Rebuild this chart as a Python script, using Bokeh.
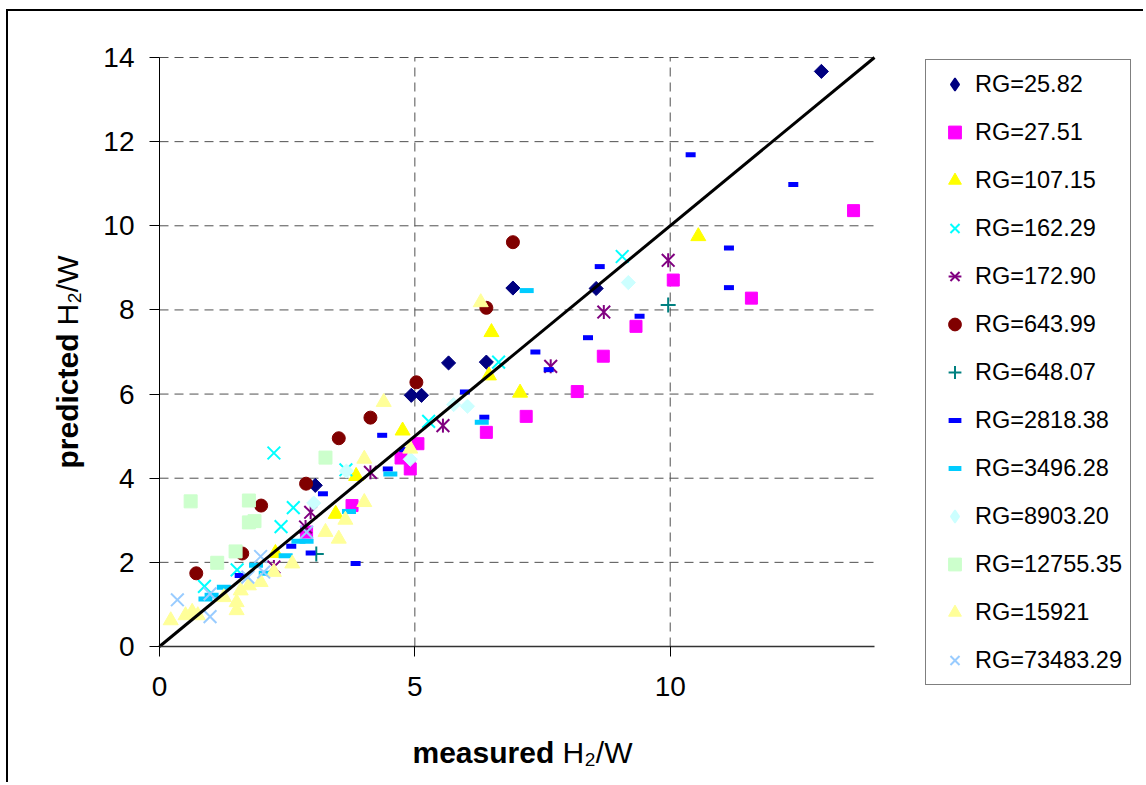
import math
from bokeh.plotting import figure
from bokeh.models import Range1d, FixedTicker, Legend, LegendItem, Title
from bokeh.embed import file_html
from bokeh.resources import INLINE

# ---------------- data ----------------
rg25_82_x = [3.05, 4.93, 5.13, 5.66, 6.40, 6.92, 8.55, 12.96]
rg25_82_y = [3.83, 5.97, 5.97, 6.74, 6.76, 8.52, 8.51, 13.67]

rg27_51_x = [2.88, 3.77, 4.73, 4.91, 5.06, 6.40, 7.18, 8.18, 8.69, 9.33, 10.06, 11.59, 13.59]
rg27_51_y = [2.72, 3.35, 4.48, 4.22, 4.82, 5.09, 5.47, 6.06, 6.90, 7.61, 8.71, 8.28, 10.36]

rg107_15_x = [2.27, 3.45, 3.85, 4.76, 6.45, 6.50, 7.06, 10.55]
rg107_15_y = [2.22, 3.15, 4.05, 5.13, 6.44, 7.47, 6.03, 9.75]

rg162_29_x = [0.88, 1.52, 2.38, 2.62, 2.24, 3.65, 5.27, 6.64, 9.06]
rg162_29_y = [1.43, 1.82, 2.85, 3.30, 4.60, 4.20, 5.35, 6.76, 9.27]

rg172_90_x = [2.24, 2.86, 2.96, 4.13, 5.55, 7.66, 8.70, 9.96]
rg172_90_y = [1.89, 2.84, 3.19, 4.14, 5.25, 6.66, 7.95, 9.18]

rg643_99_x = [0.72, 1.62, 1.99, 2.87, 3.51, 4.13, 5.03, 6.40, 6.92]
rg643_99_y = [1.74, 2.21, 3.35, 3.87, 4.95, 5.44, 6.28, 8.05, 9.61]

rg648_07_x = [3.07, 9.96]
rg648_07_y = [2.20, 8.12]

rg2818_38_x = [1.57, 2.58, 2.96, 3.20, 3.84, 4.36, 4.47, 4.79, 5.98, 6.36, 7.36, 7.62,
               8.39, 8.62, 9.40, 10.40, 11.15, 11.15, 12.41]
rg2818_38_y = [1.69, 2.38, 2.22, 3.63, 1.97, 5.02, 4.22, 4.68, 6.05, 5.45, 7.00, 6.58,
               7.34, 9.03, 7.85, 11.69, 9.47, 8.53, 10.98]

rg3496_28_x = [0.90, 1.02, 1.26, 1.89, 2.08, 2.47, 2.72, 2.88, 3.71, 4.52, 6.31, 7.19]
rg3496_28_y = [1.13, 1.22, 1.41, 1.93, 1.74, 2.16, 2.50, 2.50, 3.21, 4.10, 5.33, 8.46]

rg8903_20_x = [3.02, 3.66, 4.91, 5.76, 6.03, 9.18]
rg8903_20_y = [3.41, 4.17, 4.45, 5.75, 5.71, 8.65]

rg12755_35_x = [0.61, 1.13, 1.49, 1.75, 1.86, 1.75, 3.25]
rg12755_35_y = [3.45, 1.99, 2.26, 2.95, 2.98, 3.47, 4.49]

rg15921_x = [0.22, 0.51, 0.64, 0.75, 1.26, 1.51, 1.51, 1.59, 1.75, 1.98, 2.24, 2.60,
             3.25, 3.51, 3.64, 4.01, 4.01, 4.39, 4.91, 6.29]
rg15921_y = [0.62, 0.74, 0.82, 0.74, 1.17, 0.86, 1.05, 1.33, 1.45, 1.53, 1.77, 1.97,
             2.72, 2.56, 3.01, 3.43, 4.46, 5.81, 4.70, 8.18]

rg73483_29_x = [0.35, 0.99, 0.99, 1.73, 1.98, 2.04, 2.88]
rg73483_29_y = [1.11, 0.71, 1.25, 1.65, 2.14, 1.77, 2.72]

legend_labels = ["RG=25.82", "RG=27.51", "RG=107.15", "RG=162.29", "RG=172.90",
                 "RG=643.99", "RG=648.07", "RG=2818.38", "RG=3496.28", "RG=8903.20",
                 "RG=12755.35", "RG=15921", "RG=73483.29"]

x_ticks = [0, 5, 10]
y_ticks = [0, 2, 4, 6, 8, 10, 12, 14]
x_lim = (0, 14)      # plotted data area
y_lim = (0, 14)

x_title = ("measured", "H\u2082/W")
y_title = ("predicted", "H\u2082/W")

# ---------------- styles ----------------
FONT = "Liberation Sans"
styles = [
    dict(marker="square", angle=math.pi / 4, size=10, fill="#000080", line="#000080", lw=1, leg="diamond"),
    dict(marker="square", angle=0, size=12, fill="#FF00FF", line="#FF00FF", lw=1),
    dict(marker="triangle", angle=0, size=15, fill="#FFFF00", line="#FFFF00", lw=1),
    dict(marker="x", angle=0, size=18, fill=None, line="#00FFFF", lw=2),
    dict(marker="x", angle=0, size=18, fill=None, line="#800080", lw=2, extra="dash"),
    dict(marker="circle", angle=0, size=13, fill="#800000", line="#800000", lw=1),
    dict(marker="cross", angle=0, size=15, fill=None, line="#008080", lw=2),
    dict(marker="dash", angle=0, size=10, fill=None, line="#0000FF", lw=5),
    dict(marker="dash", angle=0, size=14, fill=None, line="#00CCFF", lw=5),
    dict(marker="square", angle=math.pi / 4, size=10, fill="#CCFFFF", line="#CCFFFF", lw=1, leg="diamond"),
    dict(marker="square", angle=0, size=13, fill="#CCFFCC", line="#CCFFCC", lw=1),
    dict(marker="triangle", angle=0, size=15, fill="#FFFF99", line="#FFFF99", lw=1),
    dict(marker="x", angle=0, size=18, fill=None, line="#99CCFF", lw=2),
]
series_xy = [
    (rg25_82_x, rg25_82_y), (rg27_51_x, rg27_51_y), (rg107_15_x, rg107_15_y),
    (rg162_29_x, rg162_29_y), (rg172_90_x, rg172_90_y), (rg643_99_x, rg643_99_y),
    (rg648_07_x, rg648_07_y), (rg2818_38_x, rg2818_38_y), (rg3496_28_x, rg3496_28_y),
    (rg8903_20_x, rg8903_20_y), (rg12755_35_x, rg12755_35_y), (rg15921_x, rg15921_y),
    (rg73483_29_x, rg73483_29_y),
]

# ---------------- geometry (canvas px) ----------------
W, H = 1137, 773
X0_PX, X14_PX = 151, 866        # where x=0 and x=14 fall
Y14_PX, Y0_PX = 46, 635         # where y=14 and y=0 fall
FL, FT, FB = 80, 20, 712        # frame left / top / bottom: frame holds tick labels and legend
PPX = (X14_PX - X0_PX) / (x_lim[1] - x_lim[0])
PPY = (Y0_PX - Y14_PX) / (y_lim[1] - y_lim[0])
x_range = Range1d(x_lim[0] - (X0_PX - FL) / PPX, x_lim[1] + (W - X14_PX) / PPX)
y_range = Range1d(y_lim[0] - (FB - Y0_PX) / PPY, y_lim[1] + (Y14_PX - FT) / PPY)

p = figure(width=W, height=H, output_backend="svg", toolbar_location=None, tools="",
           x_range=x_range, y_range=y_range,
           min_border_left=FL, min_border_right=0,
           min_border_top=FT, min_border_bottom=H - FB)
p.styles = {"margin-left": "6px", "margin-top": "9px",
            "border-left": "2px solid #000000", "border-top": "2px solid #000000"}
p.outline_line_color = None
p.background_fill_color = "white"
p.border_fill_color = "white"
p.grid.visible = False

p.xaxis.ticker = FixedTicker(ticks=x_ticks)
p.yaxis.ticker = FixedTicker(ticks=y_ticks)
p.xaxis.fixed_location = 0
p.yaxis.fixed_location = 0
p.xaxis.bounds = x_lim
p.yaxis.bounds = y_lim
for ax in (p.xaxis[0], p.yaxis[0]):
    ax.major_label_text_font = FONT
    ax.major_label_text_font_size = "28px"
    ax.major_label_text_color = "black"
    ax.major_tick_in = 0
    ax.major_tick_out = 10
    ax.major_tick_line_color = "black"
    ax.minor_tick_line_color = None
p.xaxis.axis_line_color = "#333333"
p.xaxis.axis_line_width = 1.5
p.yaxis.axis_line_color = "black"
p.yaxis.axis_line_width = 1
p.xaxis.major_label_standoff = 20
p.yaxis.major_label_standoff = 15

# dashed gridlines limited to the 0..14 square
p.segment(x0=[x_lim[0]] * len(y_ticks), x1=[x_lim[1]] * len(y_ticks), y0=y_ticks, y1=y_ticks,
          line_color="#505050", line_dash="9 6", line_width=1)
p.segment(x0=x_ticks, x1=x_ticks, y0=[y_lim[0]] * len(x_ticks), y1=[y_lim[1]] * len(x_ticks),
          line_color="#505050", line_dash="9 6", line_width=1)

# ---------------- series ----------------
items = []
for (xs, ys), st, lab in zip(series_xy, styles, legend_labels):
    r = p.scatter(x=xs, y=ys, marker=st["marker"], size=st["size"], angle=st["angle"],
                  fill_color=st["fill"], line_color=st["line"], line_width=st["lw"])
    rends = [r]
    if st.get("extra") == "dash":
        r2 = p.scatter(x=xs, y=ys, marker="dash", size=14, angle=math.pi / 2,
                       line_color=st["line"], line_width=st["lw"])
        rends.append(r2)
    if st.get("leg"):
        rl = p.scatter(x=xs, y=ys, marker=st["leg"], size=st["size"],
                       fill_color=st["fill"], line_color=st["line"], line_width=1.5)
        rl.visible = False
        rends = [rl]
    items.append(LegendItem(label=lab, renderers=rends))

# 1:1 reference line across the 0..14 square
p.line(x=list(x_lim), y=list(y_lim), line_color="black", line_width=3)

# ---------------- legend (inside the widened frame) ----------------
LEG_LEFT, LEG_BOTTOM = 917, 674
legend = Legend(items=items, location=(LEG_LEFT - FL, FB - LEG_BOTTOM),
                orientation="vertical", glyph_width=41, glyph_height=32,
                label_standoff=0, padding=8, spacing=16, label_height=32,
                label_text_font=FONT, label_text_font_size="23.5px",
                label_text_color="black",
                border_line_color="black", border_line_width=1,
                background_fill_color="white", background_fill_alpha=1.0, margin=0)
p.add_layout(legend)

# ---------------- axis titles: bold word + normal H2/W on one line ----------------
TITLE_PX = 30
H_EST = 34                     # text-box height of a 30px title
ZERO = -(2 + H_EST)            # standoff giving a zero-size slot
BOLD_W = {'m': 889, 'e': 556, 'a': 556, 's': 556, 'u': 611, 'r': 389, 'd': 611,
          'p': 611, 'i': 278, 'c': 556, 't': 333, ' ': 278}
COMMON = dict(text_font=FONT, text_font_size=f"{TITLE_PX}px", text_color="black",
              text_line_height=1.0)


def bold_width(txt):
    return sum(BOLD_W.get(c, 556) for c in txt) * TITLE_PX / 1000.0


def add_axis_title(side, words, start, gap):
    p.add_layout(Title(text=" ", standoff=gap - (2 + H_EST), **COMMON), side)
    p.add_layout(Title(text=words[0], align="left", offset=start, standoff=ZERO,
                       vertical_align="bottom", text_font_style="bold", **COMMON), side)
    p.add_layout(Title(text=words[1], align="left",
                       offset=round(start + bold_width(words[0] + " ")), standoff=ZERO,
                       vertical_align="bottom", text_font_style="normal", **COMMON), side)


add_axis_title("below", x_title, 253 + (X0_PX - FL), 740 - FB)
add_axis_title("left", y_title, 178 + (FB - Y0_PX), FL - 56)

open("out.html", "w").write(file_html(p, INLINE))
